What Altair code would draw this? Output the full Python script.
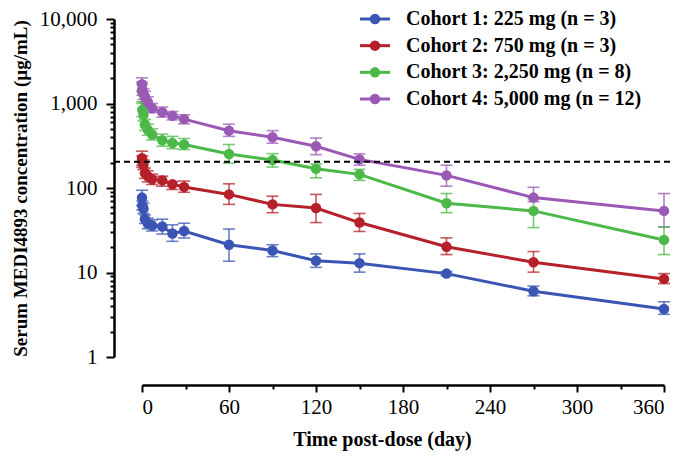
import altair as alt
import pandas as pd

# ---------------- data ----------------
days = [0, 0.2, 1, 2, 4, 7, 14, 21, 29, 60, 90, 120, 150, 210, 270, 360]

cohorts = [
    "Cohort 1: 225 mg (n = 3)",
    "Cohort 2: 750 mg (n = 3)",
    "Cohort 3: 2,250 mg (n = 8)",
    "Cohort 4: 5,000 mg (n = 12)",
]
colors = ["#3A55B4", "#B5202A", "#4CB848", "#9B59B6"]

c1_mean = [77, 62, 57, 43, 38, 36, 35, 29, 31, 21.3, 18.2, 13.8, 12.9, 9.7, 6.0, 3.7]
c1_low = [62, 55, 50, 38, 33, 31, 28.5, 23.4, 25.6, 13.6, 15.4, 11.5, 10.1, 9.2, 5.3, 3.2]
c1_high = [94, 70, 66, 48, 44, 42, 42.8, 36.7, 38.3, 32.7, 21.3, 16.6, 16.6, 10.2, 6.9, 4.5]

c2_mean = [225, 205, 190, 150, 138, 127, 123, 111, 103, 84, 64, 58, 39, 20.2, 13.2, 8.4]
c2_low = [185, 175, 165, 130, 118, 110, 105, 96, 89, 64, 51, 39, 30.6, 16.3, 10.1, 7.4]
c2_high = [273, 240, 215, 172, 160, 146, 138, 119, 121, 112, 80, 84, 50, 25.7, 17.7, 9.7]

c3_mean = [1380, 840, 740, 560, 490, 430, 367, 341, 327, 253, 214, 169, 145, 66, 53.6, 24.3]
c3_low = [1050, 700, 620, 480, 420, 370, 312, 292, 285, 197, 177, 132, 123, 51, 34, 16.3]
c3_high = [1800, 1000, 870, 650, 570, 500, 434, 408, 385, 327, 255, 192, 166, 86, 75, 34.6]

c4_mean = [1690, 1460, 1300, 1210, 1040, 880, 790, 716, 654, 477, 398, 312, 218, 141, 77, 53.6]
c4_low = [1400, 1250, 1120, 1050, 900, 780, 690, 640, 575, 408, 339, 248, 186, 105, 69, 34.6]
c4_high = [2015, 1700, 1500, 1400, 1200, 1000, 908, 803, 735, 570, 477, 390, 253, 186, 102, 86]

threshold = [205]

y_ticks = [1, 2, 3, 4, 5, 6, 7, 8, 9,
           10, 20, 30, 40, 50, 60, 70, 80, 90,
           100, 200, 300, 400, 500, 600, 700, 800, 900,
           1000, 2000, 3000, 4000, 5000, 6000, 7000, 8000, 9000, 10000]
x_ticks = [0, 30, 60, 90, 120, 150, 180, 210, 240, 270, 300, 330, 360]

# ---------------- table ----------------
rows = []
for name, m, lo, hi in zip(
    cohorts,
    [c1_mean, c2_mean, c3_mean, c4_mean],
    [c1_low, c2_low, c3_low, c4_low],
    [c1_high, c2_high, c3_high, c4_high],
):
    for d, v, l, h in zip(days, m, lo, hi):
        rows.append({"cohort": name, "day": d, "conc": v, "low": l, "high": h})
df = pd.DataFrame(rows)
leg_df = pd.DataFrame({"cohort": cohorts, "row": [0, 1, 2, 3]})
thr_df = pd.DataFrame({"thr": threshold})

FONT = "Liberation Serif"
YTITLE = "Serum MEDI4893 concentration (µg/mL)"
XTITLE = "Time post-dose (day)"
MAJOR_Y = "indexof([1,10,100,1000,10000], datum.value) >= 0"
MAJOR_X = "datum.value % 60 == 0"

x_scale = alt.Scale(domain=[0, 360], nice=False, zero=False)
y_scale = alt.Scale(type="log", domain=[1, 10000], nice=False)

x_axis = alt.Axis(
    values=x_ticks,
    labelExpr=MAJOR_X + " ? format(datum.value, 'd') : ''",
    tickSize={"condition": {"test": MAJOR_X, "value": 7}, "value": 4},
    offset=28, grid=False,
    domainColor="black", domainWidth=2.5, tickColor="black", tickWidth=2,
    labelFont=FONT, labelFontSize=21, labelColor="black", labelPadding=4,
    labelOverlap=False,
    title=XTITLE, titleFont=FONT, titleFontSize=20, titleFontWeight="bold",
    titleColor="black", titlePadding=12, titleX=240,
)
y_axis = alt.Axis(
    values=y_ticks,
    labelExpr=MAJOR_Y + " ? format(datum.value, ',') : ''",
    tickSize={"condition": {"test": MAJOR_Y, "value": 8}, "value": 4},
    offset=28, grid=False,
    domainColor="black", domainWidth=2.5, tickColor="black", tickWidth=2,
    labelFont=FONT, labelFontSize=21, labelColor="black", labelPadding=9,
    labelOverlap=False,
    title=YTITLE, titleFont=FONT, titleFontSize=19, titleFontWeight="bold",
    titleColor="black", titlePadding=9,
)

X = alt.X("day:Q", scale=x_scale, axis=x_axis, title=XTITLE)
color = alt.Color("cohort:N", scale=alt.Scale(domain=cohorts, range=colors), legend=None)

base = alt.Chart(df)

err = base.mark_rule(strokeWidth=1.6, opacity=0.75).encode(
    x=X,
    y=alt.Y("low:Q", scale=y_scale, axis=y_axis, title=YTITLE),
    y2="high:Q",
    color=color,
)
cap_lo = base.mark_tick(orient="horizontal", size=12, thickness=1.6, opacity=0.75).encode(
    x=X, y=alt.Y("low:Q", scale=y_scale, title=YTITLE), color=color
)
cap_hi = base.mark_tick(orient="horizontal", size=12, thickness=1.6, opacity=0.75).encode(
    x=X, y=alt.Y("high:Q", scale=y_scale, title=YTITLE), color=color
)
line = base.mark_line(strokeWidth=3).encode(
    x=X, y=alt.Y("conc:Q", scale=y_scale, title=YTITLE), color=color,
    order="day:Q",
)
pts = base.mark_circle(size=110, opacity=1).encode(
    x=X, y=alt.Y("conc:Q", scale=y_scale, title=YTITLE), color=color
)
thr = alt.Chart(thr_df).mark_rule(strokeDash=[6, 4], strokeWidth=2, color="black").encode(
    y=alt.Y("thr:Q", scale=y_scale, title=YTITLE),
    x=alt.value(-28),
    x2=alt.value(533),
)

main = alt.layer(err, cap_lo, cap_hi, line, pts, thr)

# manual legend (line + circle symbol)
LY = alt.Y("row:Q", scale=alt.Scale(domain=[0, 3], range=[0, 80]), axis=None)
lg = alt.Chart(leg_df)
leg_line = lg.mark_rule(strokeWidth=3).encode(
    x=alt.value(218), x2=alt.value(248), y=LY, color=color
)
leg_pt = lg.mark_circle(size=110, opacity=1).encode(x=alt.value(233), y=LY, color=color)
leg_txt = lg.mark_text(
    align="left", baseline="middle", font=FONT, fontSize=20, fontWeight="bold", color="black"
).encode(x=alt.value(264), y=LY, text="cohort:N")
legend = alt.layer(leg_line, leg_pt, leg_txt)

chart = (
    alt.layer(main, legend)
    .resolve_scale(y="independent")
    .properties(
        width=522,
        height=338,
        autosize=alt.AutoSizeParams(type="none"),
        padding={"left": 134, "top": 11, "right": 8, "bottom": 102},
    )
    .configure_view(stroke=None)
)

chart.save("out.html", embed_options={"renderer": "svg", "actions": False})
